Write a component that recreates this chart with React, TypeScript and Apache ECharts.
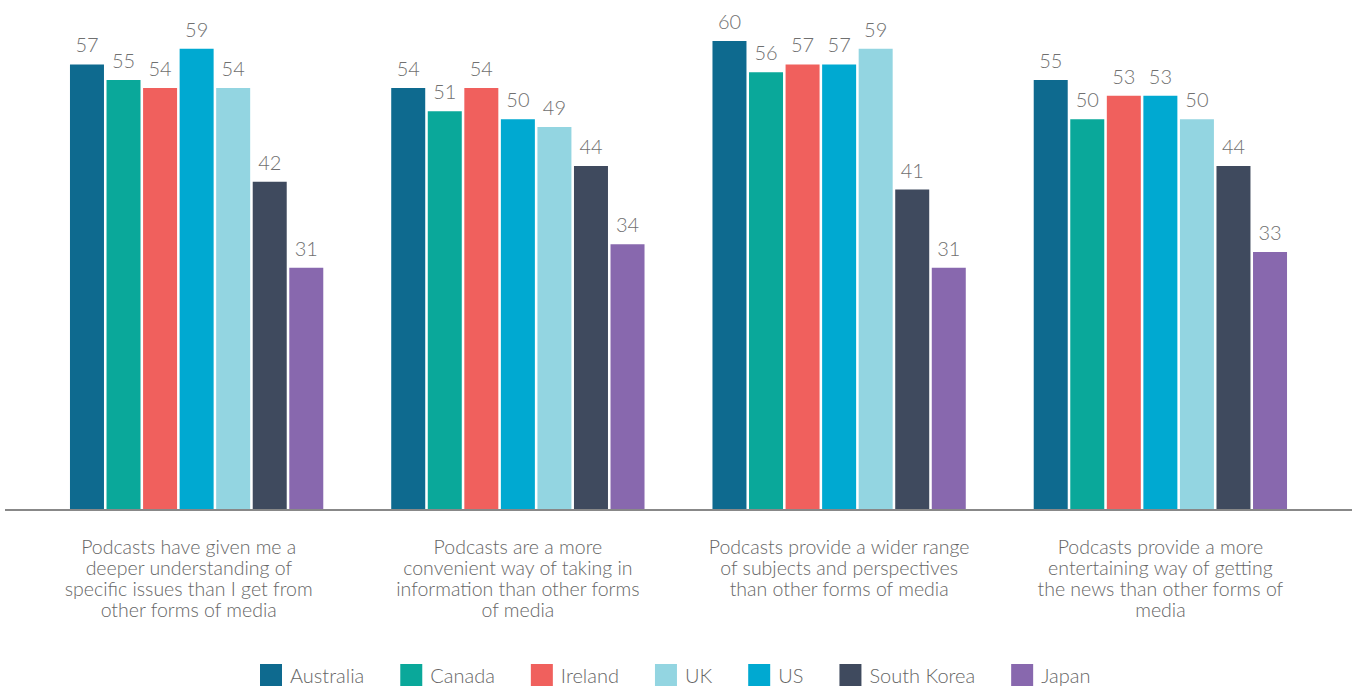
import React, { useEffect, useRef } from "react";
import * as echarts from "echarts";

const categories = [
  "Podcasts have given me a\ndeeper understanding of\nspecific issues than I get from\nother forms of media",
  "Podcasts are a more\nconvenient way of taking in\ninformation than other forms\nof media",
  "Podcasts provide a wider range\nof subjects and perspectives\nthan other forms of media",
  "Podcasts provide a more\nentertaining way of getting\nthe news than other forms of\nmedia",
];

const australia = [57, 54, 60, 55];
const canada = [55, 51, 56, 50];
const ireland = [54, 54, 57, 53];
const us = [59, 50, 57, 53];
const uk = [54, 49, 59, 50];
const southKorea = [42, 44, 41, 44];
const japan = [31, 34, 31, 33];

const seriesDefs = [
  { name: "Australia", data: australia, color: "#0E6A8F" },
  { name: "Canada", data: canada, color: "#0AA89A" },
  { name: "Ireland", data: ireland, color: "#F0605D" },
  { name: "US", data: us, color: "#00A9D1" },
  { name: "UK", data: uk, color: "#93D5E1" },
  { name: "South Korea", data: southKorea, color: "#3F4A5E" },
  { name: "Japan", data: japan, color: "#8868AE" },
];

const legendOrder = ["Australia", "Canada", "Ireland", "UK", "US", "South Korea", "Japan"];

const FONT = "Lato, 'Open Sans', sans-serif";

export default function App() {
  const ref = useRef<HTMLDivElement>(null);
  useEffect(() => {
    if (!ref.current) return;
    const chart = echarts.init(ref.current, null, { renderer: "svg" });
    chart.setOption({
      animation: false,
      backgroundColor: "#ffffff",
      grid: { left: 36, right: 44, top: 41, bottom: 179, containLabel: false },
      legend: {
        data: legendOrder,
        top: 664,
        left: 260,
        padding: 0,
        itemWidth: 22,
        itemHeight: 22,
        itemGap: 36,
        icon: "rect",
        textStyle: {
          color: "#666",
          fontSize: 20,
          lineHeight: 22,
          fontFamily: FONT,
          fontWeight: 300,
          padding: [0, 0, 0, 3],
        },
      },
      xAxis: {
        type: "category",
        data: categories,
        axisLine: { show: false },
        axisTick: { show: false },
        axisLabel: {
          interval: 0,
          margin: 26,
          align: "center",
          color: "#666",
          fontSize: 19.5,
          lineHeight: 21,
          fontFamily: FONT,
          fontWeight: 300,
          formatter: (v: string, i: number) =>
            i === 0
              ? v
                  .split("\n")
                  .map((l) => l + "\u00a0\u00a0\u00a0")
                  .join("\n")
              : v,
        },
      },
      yAxis: {
        type: "value",
        min: 0,
        max: 60,
        show: false,
        splitLine: { show: false },
      },
      graphic: [
        {
          type: "line",
          shape: { x1: 5, y1: 510, x2: 1352, y2: 510 },
          style: { stroke: "#888", lineWidth: 2 },
          z: 10,
        },
      ],
      series: seriesDefs.map((s) => ({
        name: s.name,
        type: "bar",
        data: s.data,
        barWidth: 34,
        barGap: "7.5%",
        itemStyle: { color: s.color },
        label: {
          show: true,
          position: "top",
          distance: 10,
          color: "#707070",
          fontSize: 20,
          fontFamily: FONT,
          fontWeight: 300,
        },
      })),
    });
    return () => chart.dispose();
  }, []);
  return (
    <div
      ref={ref}
      style={{ position: "fixed", left: 0, top: 0, width: 1365, height: 689 }}
    />
  );
}
